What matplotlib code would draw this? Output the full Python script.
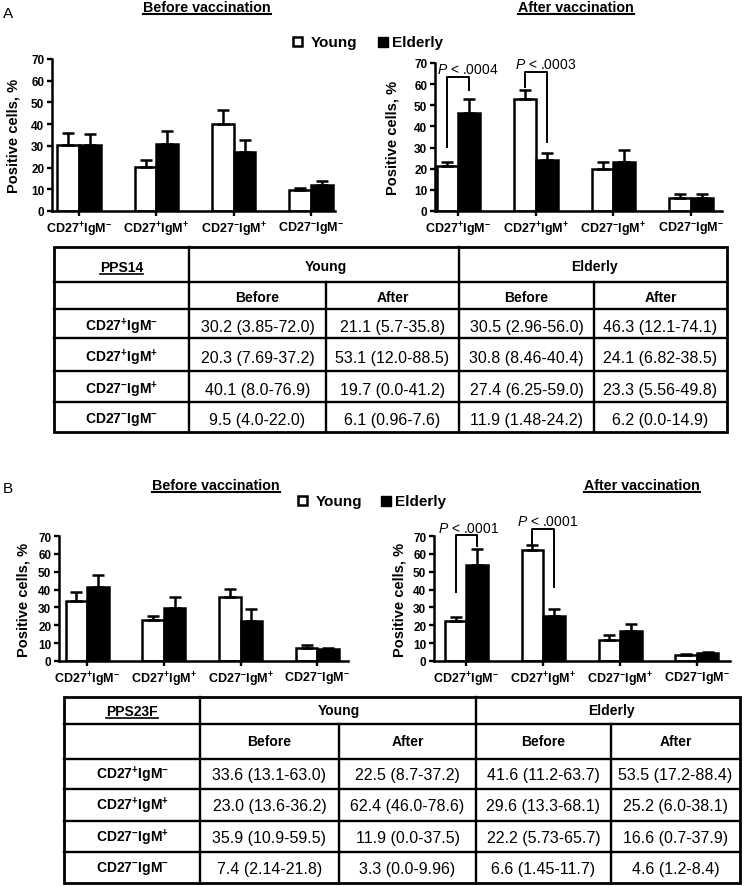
import matplotlib
matplotlib.use('Agg')
import matplotlib.pyplot as plt
from matplotlib.patches import Rectangle
import numpy as np

plt.rcParams['font.family'] = ['Liberation Sans', 'DejaVu Sans']
plt.rcParams['mathtext.fontset'] = 'custom'
plt.rcParams['mathtext.rm'] = 'Liberation Sans'
plt.rcParams['mathtext.it'] = 'Liberation Sans:italic'
plt.rcParams['mathtext.bf'] = 'Liberation Sans:bold'

W, H = 750, 887

# B-cell subsets
subset_labels = [r'CD27$^{\mathbf{+}}$IgM$^{\mathbf{-}}$', r'CD27$^{\mathbf{+}}$IgM$^{\mathbf{+}}$',
                 r'CD27$^{\mathbf{-}}$IgM$^{\mathbf{+}}$', r'CD27$^{\mathbf{-}}$IgM$^{\mathbf{-}}$']

# PPS14 medians (%) and ranges
young_14_before = [30.2, 20.3, 40.1, 9.5]
young_14_after = [21.1, 53.1, 19.7, 6.1]
elderly_14_before = [30.5, 30.8, 27.4, 11.9]
elderly_14_after = [46.3, 24.1, 23.3, 6.2]
young_14_before_rng = ['3.85-72.0', '7.69-37.2', '8.0-76.9', '4.0-22.0']
young_14_after_rng = ['5.7-35.8', '12.0-88.5', '0.0-41.2', '0.96-7.6']
elderly_14_before_rng = ['2.96-56.0', '8.46-40.4', '6.25-59.0', '1.48-24.2']
elderly_14_after_rng = ['12.1-74.1', '6.82-38.5', '5.56-49.8', '0.0-14.9']
# upper error bars
young_14_before_err = [5.8, 3.1, 6.4, 1.3]
elderly_14_before_err = [4.9, 6.1, 5.4, 1.9]
young_14_after_err = [2.2, 4.2, 3.3, 1.9]
elderly_14_after_err = [6.7, 3.5, 5.7, 1.8]

# PPS23F
young_23_before = [33.6, 23.0, 35.9, 7.4]
young_23_after = [22.5, 62.4, 11.9, 3.3]
elderly_23_before = [41.6, 29.6, 22.2, 6.6]
elderly_23_after = [53.5, 25.2, 16.6, 4.6]
young_23_before_rng = ['13.1-63.0', '13.6-36.2', '10.9-59.5', '2.14-21.8']
young_23_after_rng = ['8.7-37.2', '46.0-78.6', '0.0-37.5', '0.0-9.96']
elderly_23_before_rng = ['11.2-63.7', '13.3-68.1', '5.73-65.7', '1.45-11.7']
elderly_23_after_rng = ['17.2-88.4', '6.0-38.1', '0.7-37.9', '1.2-8.4']
young_23_before_err = [4.9, 2.3, 4.4, 1.6]
elderly_23_before_err = [6.8, 6.4, 6.8, 0.9]
young_23_after_err = [2.3, 2.3, 2.6, 0.5]
elderly_23_after_err = [9.0, 3.8, 4.4, 0.3]

# significance brackets after vaccination: (young leg start, top, elderly leg end)
p_14 = ['.0004', '.0003']
brackets_14 = [(30.3, 63.5, 57.2), (58.7, 65.7, 32.6)]
p_23 = ['.0001', '.0001']
brackets_23 = [(38.5, 70.7, 64.4), (65.7, 74.1, 41.7)]

bw = 0.28

fig = plt.figure(figsize=(7.5, 8.87), dpi=100)
ax0 = fig.add_axes([0, 0, 1, 1])
ax0.set_xlim(0, W)
ax0.set_ylim(H, 0)
ax0.axis('off')


def px_axes(x0, x1, ytop, ybot):
    return fig.add_axes([x0 / W, 1 - ybot / H, (x1 - x0) / W, (ybot - ytop) / H])


def chart(box, xlim, lab_x, young, elderly, yerr, eerr):
    ax = px_axes(*box)
    x = np.arange(len(young))
    ax.bar(x - bw / 2, young, bw, color='white', edgecolor='black', lw=1.8)
    ax.bar(x + bw / 2, elderly, bw, color='black', edgecolor='black', lw=1.8)
    ax.errorbar(x - bw / 2, young, yerr=[np.zeros(4), yerr], fmt='none', ecolor='black',
                elinewidth=1.8, capsize=4.5, capthick=1.8)
    ax.errorbar(x + bw / 2, elderly, yerr=[np.zeros(4), eerr], fmt='none', ecolor='black',
                elinewidth=1.8, capsize=4.5, capthick=1.8)
    ax.set_xlim(*xlim)
    ax.set_ylim(0, 70)
    ax.set_yticks(range(0, 71, 10))
    ax.set_xticks(x)
    ax.set_xticklabels(subset_labels, fontsize=9, fontweight='bold')
    for t in ax.get_yticklabels():
        t.set_fontweight('bold')
    ax.tick_params(direction='out', length=3.5, width=1.7, labelsize=8.5, pad=2)
    ax.tick_params(axis='x', labelsize=9, pad=3)
    for s in ['top', 'right']:
        ax.spines[s].set_visible(False)
    for s in ['left', 'bottom']:
        ax.spines[s].set_linewidth(1.8)
    ax.set_ylabel('Positive cells, %', fontsize=10.5, fontweight='bold')
    ax.yaxis.set_label_coords((lab_x - box[0]) / (box[1] - box[0]), 0.5)
    ax.patch.set_alpha(0)
    return ax


def brackets(ax, brs, pvals, dx):
    for i, ((y0, ytop, y1), p) in enumerate(zip(brs, pvals)):
        ax.plot([i - bw / 2, i - bw / 2, i + bw / 2, i + bw / 2], [y0, ytop, ytop, y1],
                color='black', lw=1.4, clip_on=False)
        ax.text(i + dx[i], ytop + 1.8, r'$\mathit{P}$ < ' + p, ha='center', va='baseline',
                fontsize=10, clip_on=False)


axA1 = chart((52, 335, 60, 212), (-0.35, 3.31), 21, young_14_before, elderly_14_before,
             young_14_before_err, elderly_14_before_err)
axA2 = chart((435, 722, 64, 212), (-0.30, 3.40), 400, young_14_after, elderly_14_after,
             young_14_after_err, elderly_14_after_err)
brackets(axA2, brackets_14, p_14, [0.12, 0.12])
axB1 = chart((59, 348, 537, 662), (-0.365, 3.40), 31, young_23_before, elderly_23_before,
             young_23_before_err, elderly_23_before_err)
axB2 = chart((434, 730, 537, 662), (-0.42, 3.43), 406, young_23_after, elderly_23_after,
             young_23_after_err, elderly_23_after_err)
brackets(axB2, brackets_23, p_23, [0.03, 0.06])

renderer = fig.canvas.get_renderer()
inv = ax0.transData.inverted()


def underlined(x, y, s, size, gap=3.0, lw=1.5, ha='center'):
    t = ax0.text(x, y, s, ha=ha, va='baseline', fontsize=size, fontweight='bold')
    bb = t.get_window_extent(renderer=renderer)
    xa = inv.transform((bb.x0, bb.y0))[0]
    xb = inv.transform((bb.x1, bb.y0))[0]
    ax0.plot([xa, xb], [y + gap, y + gap], color='black', lw=lw)


# panel letters and titles
ax0.text(3, 18, 'A', fontsize=11, va='baseline')
ax0.text(3, 493, 'B', fontsize=11, va='baseline')
underlined(207, 12, 'Before vaccination', 10.3)
underlined(576, 12, 'After vaccination', 10.3)
underlined(216, 490, 'Before vaccination', 10.3)
underlined(642, 490, 'After vaccination', 10.3)

# legends
for (yx, ex, ly) in [(293, 378, 38), (298, 381, 497)]:
    ax0.add_patch(Rectangle((yx, ly), 9, 9, facecolor='white', edgecolor='black', lw=1.8))
    ax0.add_patch(Rectangle((ex, ly), 10, 10, facecolor='black', edgecolor='black', lw=1))
    ax0.text(yx + 18, ly + 5, 'Young', fontsize=11, fontweight='bold', va='center')
    ax0.text(ex + 14, ly + 5, 'Elderly', fontsize=11, fontweight='bold', va='center')


def table(cols, rows, name, cells, off):
    ax0.add_patch(Rectangle((cols[0], rows[0]), cols[-1] - cols[0], rows[-1] - rows[0],
                            fill=False, edgecolor='black', lw=2.0))
    for r in rows[1:-1]:
        ax0.plot([cols[0], cols[-1]], [r, r], color='black', lw=1.7)
    for c in (cols[1], cols[3]):
        ax0.plot([c, c], [rows[0], rows[-1]], color='black', lw=1.7)
    for c in (cols[2], cols[4]):
        ax0.plot([c, c], [rows[1], rows[-1]], color='black', lw=1.7)
    cx = [(cols[i] + cols[i + 1]) / 2 for i in range(len(cols) - 1)]
    cy = [(rows[i] + rows[i + 1]) / 2 + off for i in range(len(rows) - 1)]
    underlined(cx[0], cy[0] + 5, name, 10, gap=2.5, lw=1.2)
    ax0.text(cols[2], cy[0], 'Young', ha='center', va='center', fontsize=10, fontweight='bold')
    ax0.text(cols[4], cy[0], 'Elderly', ha='center', va='center', fontsize=10, fontweight='bold')
    for j, s in enumerate(['Before', 'After', 'Before', 'After']):
        ax0.text(cx[j + 1], cy[1], s, ha='center', va='center', fontsize=10, fontweight='bold')
    for i, lab in enumerate(subset_labels):
        ax0.text(cx[0], cy[i + 2], lab, ha='center', va='center', fontsize=10, fontweight='bold')
        for j, (med, rng) in enumerate(cells):
            ax0.text(cx[j + 1], cy[i + 2] + 1, f'{med[i]:.1f} ({rng[i]})', ha='center',
                     va='center', fontsize=11.5)


table([54, 189, 326, 459, 594, 727], [248, 283, 310, 339, 372, 403, 433], 'PPS14',
      [(young_14_before, young_14_before_rng), (young_14_after, young_14_after_rng),
       (elderly_14_before, elderly_14_before_rng), (elderly_14_after, elderly_14_after_rng)], 2)
table([64, 200, 339, 476, 611, 740], [698, 725, 760, 790, 822, 853, 884], 'PPS23F',
      [(young_23_before, young_23_before_rng), (young_23_after, young_23_after_rng),
       (elderly_23_before, elderly_23_before_rng), (elderly_23_after, elderly_23_after_rng)], 0)

fig.savefig('out.png', dpi=100)
